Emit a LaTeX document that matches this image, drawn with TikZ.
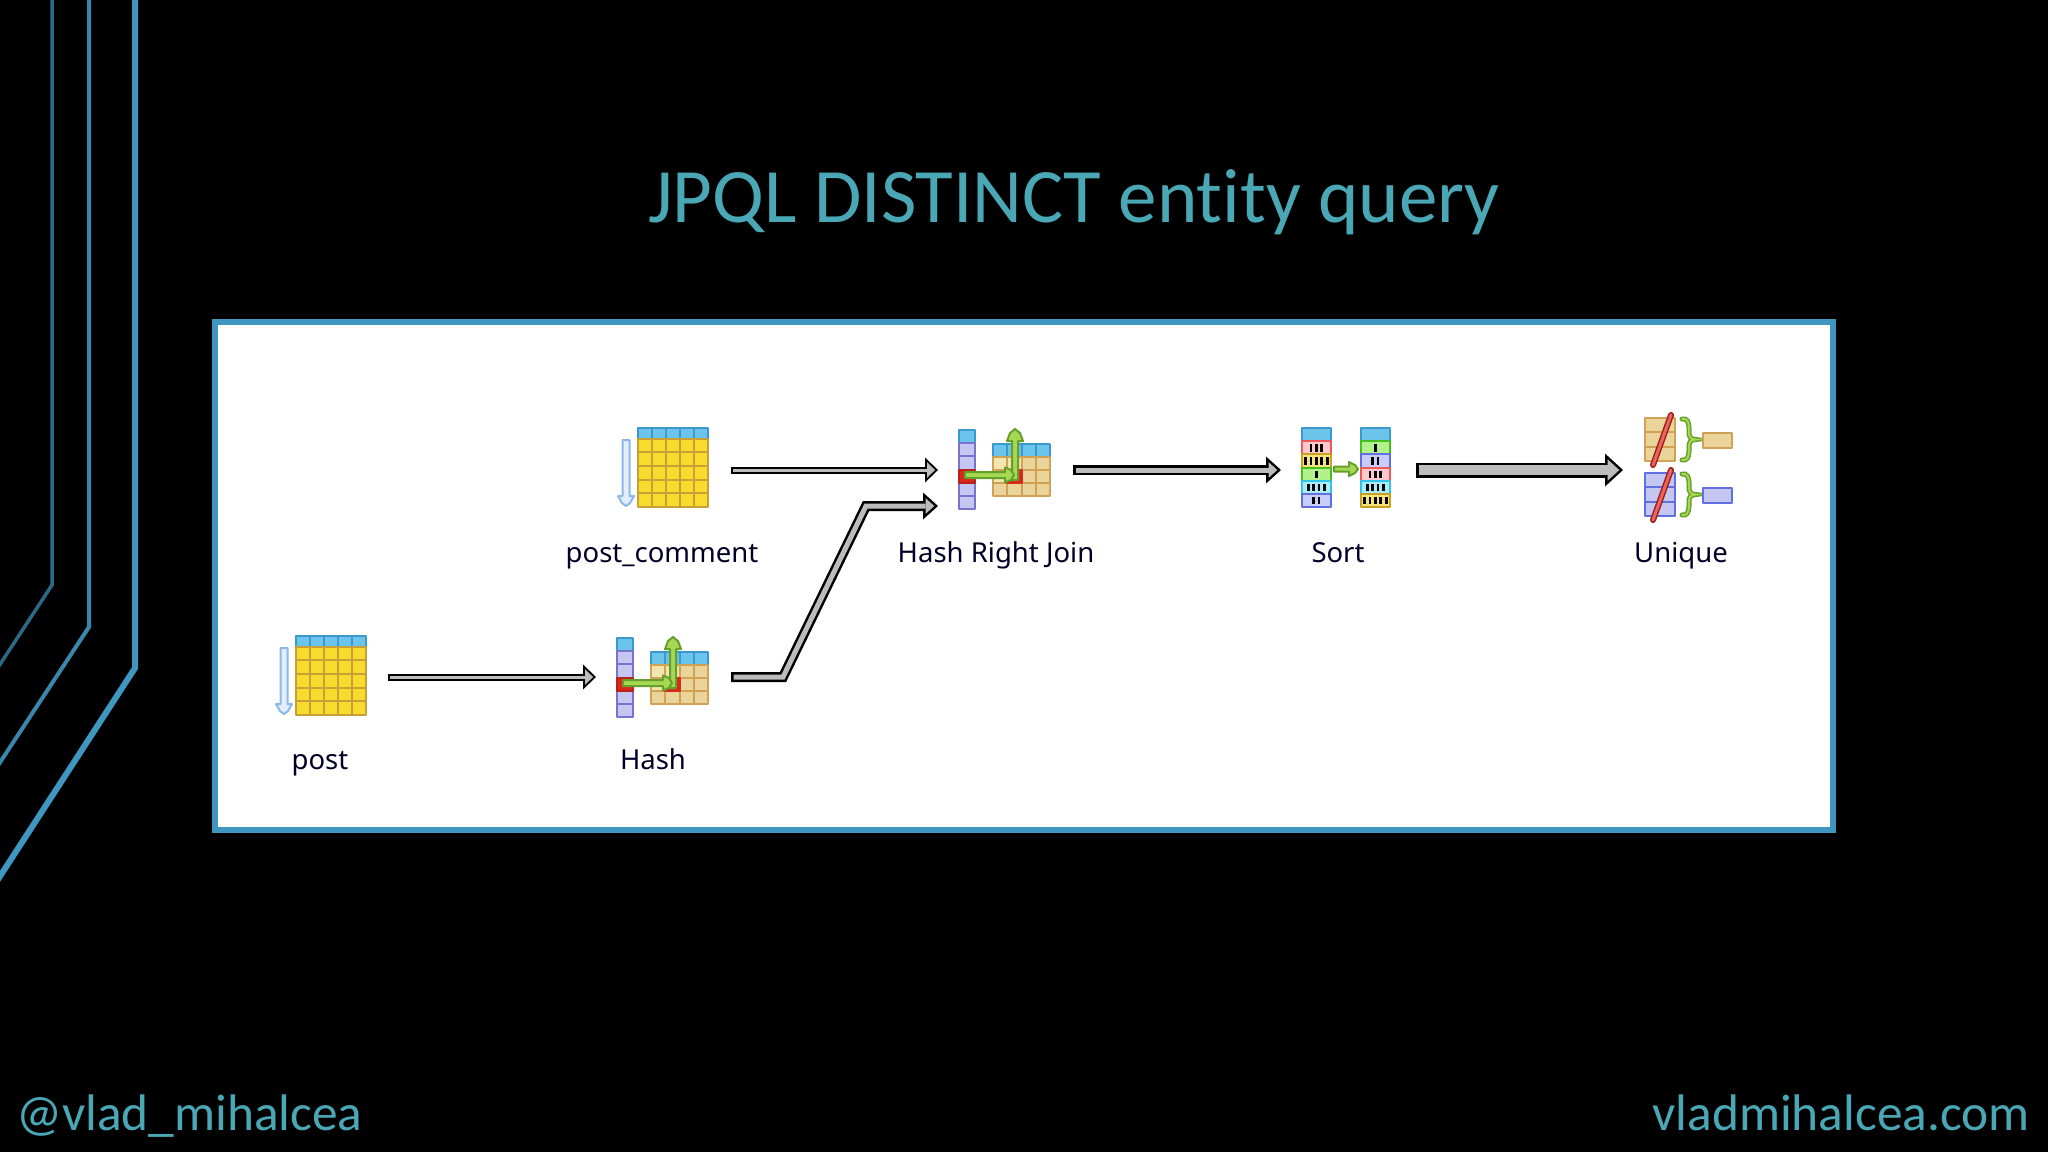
\documentclass[tikz,border=0pt]{standalone}
\usepackage{fontspec}
\usetikzlibrary{arrows.meta,calc}
\setmainfont[Ligatures=NoCommon]{Carlito}
\newfontfamily\labelfont{Noto Sans}
\definecolor{framec}{HTML}{3F96C0}
\definecolor{teal}{HTML}{4AA8B6}
\definecolor{hdrf}{HTML}{6CC4EA}
\definecolor{hdrd}{HTML}{3A9AD0}
\definecolor{yelf}{HTML}{F7DC2E}
\definecolor{yeld}{HTML}{C9A036}
\definecolor{tanf}{HTML}{EBD49A}
\definecolor{tanl}{HTML}{F1E6AE}
\definecolor{tand}{HTML}{D0A256}
\definecolor{lilf}{HTML}{C6C6F2}
\definecolor{lild}{HTML}{7A72D0}
\definecolor{redf}{HTML}{D8281E}
\definecolor{grnf}{HTML}{A6D852}
\definecolor{grnd}{HTML}{66A02C}
\definecolor{bluef}{HTML}{E2EEFB}
\definecolor{blued}{HTML}{8DB8E8}
\definecolor{arrowgray}{HTML}{BCBCBC}
\definecolor{pinkf}{HTML}{FFC8CC}
\definecolor{pinkd}{HTML}{EE5A5A}
\definecolor{ylwf}{HTML}{F8E27A}
\definecolor{ylwd}{HTML}{C9A020}
\definecolor{gnf}{HTML}{B4F08C}
\definecolor{gnd}{HTML}{44C020}
\definecolor{cyf}{HTML}{A8ECFA}
\definecolor{cyd}{HTML}{30C4EC}
\definecolor{lbf}{HTML}{C8CCFA}
\definecolor{lbd}{HTML}{6070E0}
\tikzset{
  x=1pt,y=-1pt,
  cell/.style={line width=2pt,line join=round},
  iconbox/.style={inner sep=0pt,outer sep=0pt,minimum height=84pt},
  lbl/.style={inner sep=0pt,anchor=base,text=black!85!blue,font=\labelfont\fontsize{27.5}{32}\selectfont},
  foot/.style={inner sep=0pt,text=teal,font=\fontsize{51.4}{60}\selectfont},
  deco/.style={draw=framec,line join=miter},
  blockouter/.style n args={3}{draw=black,line width=#1pt,line join=miter,-{Triangle[length=#2pt,width=#3pt,line width=0pt]}},
  blockinner/.style n args={5}{draw=arrowgray,line width=#1pt,line join=miter,shorten <=#4pt,shorten >=#5pt,-{Triangle[length=#2pt,width=#3pt,line width=0pt,color=arrowgray]}},
  thinA/.style={blockouter={7}{13}{25}},
  thinB/.style={blockinner={3}{8.1}{15.6}{2}{2.9}},
  midA/.style={blockouter={10}{15}{27}},
  midB/.style={blockinner={5}{8.8}{15.8}{2.5}{3.7}},
  bigA/.style={blockouter={15}{18}{33}},
  bigB/.style={blockinner={10}{11.8}{21.6}{2.5}{3.7}},
  grnarrow/.style={fill=grnf,draw=grnd,line width=2pt,line join=round}
}
% big table, top-left at #1,#2
\newcommand{\tableicon}[2]{%
  \begin{scope}[shift={(#1,#2)}]
    \foreach \i in {0,...,4}{
      \draw[cell,fill=hdrf,draw=hdrd] (14*\i,0) rectangle ++(14,10.8);
      \foreach \j in {0,...,4}{
        \draw[cell,fill=yelf,draw=yeld] (14*\i,10.8+13.6*\j) rectangle ++(14,13.6);
      }
    }
    \draw[fill=bluef,draw=blued,line width=2pt,line join=round]
      (-15.5,12) -- (-8.5,12) -- (-8.5,68) -- (-4,68) -- (-8,75) -- (-12,78) -- (-16,75) -- (-20,68) -- (-15.5,68) -- cycle;
  \end{scope}}
% hash icon, top-left at #1,#2
\newcommand{\hashicon}[2]{%
  \begin{scope}[shift={(#1,#2)}]
    \draw[cell,fill=hdrf,draw=hdrd] (0,0) rectangle ++(16,13.2);
    \foreach \j in {1,2,4,5}{
      \draw[cell,fill=lilf,draw=lild] (0,13.2*\j) rectangle ++(16,13.2);
    }
    \draw[cell,fill=redf,draw=redf!85!black] (0,39.6) rectangle ++(16,13.2);
    \foreach \i in {0,...,3}{
      \draw[cell,fill=hdrf,draw=hdrd] (34+14.25*\i,14) rectangle ++(14.25,13);
      \draw[cell,fill=tanf,draw=tand] (34+14.25*\i,27) rectangle ++(14.25,13);
      \draw[cell,fill=tanf,draw=tand] (34+14.25*\i,40) rectangle ++(14.25,13);
      \draw[cell,fill=tanf,draw=tand] (34+14.25*\i,53) rectangle ++(14.25,13);
    }
    \draw[cell,fill=tanl,draw=tand] (34,27) rectangle ++(14.25,13);
    \draw[cell,fill=tanl,draw=tand] (34,40) rectangle ++(14.25,13);
    \draw[cell,fill=tanl,draw=tand] (48.25,27) rectangle ++(14.25,13);
    \draw[cell,fill=redf,draw=redf] (48.25,40) rectangle ++(14.25,13);
    \draw[grnarrow] (53,50) -- (53,11) -- (48,11) -- (51,3) -- (56,-1) -- (61,3) -- (64,11) -- (59,11) -- (59,50) -- cycle;
    \draw[grnarrow] (6,42) -- (46,42) -- (46,37.5) -- (52,40) -- (55,45) -- (52,50) -- (46,52.5) -- (46,48) -- (6,48) -- cycle;
  \end{scope}}
% one row of the sort stacks: x,row,fill,draw,bars
\newcommand{\sortrow}[5]{%
  \draw[cell,fill=#3,draw=#4] (#1,428+13.2*#2) rectangle ++(28.5,13.2);
  \foreach \b in {1,...,#5}{
    \fill[black] (#1+14.25+5.4*\b-2.7*#5-4,428+13.2*#2+3) rectangle ++(2.8,7.4);
  }}
% unique brace, top at #1
\newcommand{\uniquebrace}[1]{%
  \draw[draw=grnd,line width=5pt,line cap=round]
    (1682,#1) .. controls (1687,#1-1) and (1689,#1+3) .. (1689,#1+9) -- (1689,#1+14)
    .. controls (1689,#1+18) and (1691,#1+20.5) .. (1696,#1+20.5)
    .. controls (1691,#1+20.5) and (1689,#1+23) .. (1689,#1+27) -- (1689,#1+32)
    .. controls (1689,#1+38) and (1687,#1+42) .. (1682,#1+41);
  \draw[draw=grnf,line width=2pt,line cap=round]
    (1682,#1) .. controls (1687,#1-1) and (1689,#1+3) .. (1689,#1+9) -- (1689,#1+14)
    .. controls (1689,#1+18) and (1691,#1+20.5) .. (1696,#1+20.5)
    .. controls (1691,#1+20.5) and (1689,#1+23) .. (1689,#1+27) -- (1689,#1+32)
    .. controls (1689,#1+38) and (1687,#1+42) .. (1682,#1+41);}
\begin{document}
\begin{tikzpicture}
\useasboundingbox (0,0) rectangle (2048,1152);
\fill[black] (0,0) rectangle (2048,1152);
% decorative lines
\draw[deco,line width=6pt] (135,-5) -- (135,668) -- (-5,884);
\draw[deco,line width=4pt,draw=framec!90!black] (89,-5) -- (89,627) -- (-5,770);
\draw[deco,line width=3.5pt,draw=framec!70!black] (52,-5) -- (52,585) -- (-5,672);
% title and footer
\node[inner sep=0pt,anchor=base,text=teal,font=\fontsize{77}{90}\selectfont] (title) at (1074,222) {JPQL DISTINCT entity query};
\node[foot,anchor=base west] (fl) at (16,1130) {@vlad\_mihalcea};
\node[foot,anchor=base east] (fr) at (2030,1130) {vladmihalcea.com};
% frame
\draw[draw=framec,fill=white,line width=6pt] (215,322) rectangle (1833,830);
% invisible node boxes
\node[iconbox,minimum width=118pt] (post) at (329,677) {};
\node[iconbox,minimum width=135pt] (hash) at (663.5,677) {};
\node[iconbox,minimum width=121pt] (pc) at (670.5,470) {};
\node[iconbox,minimum width=135pt] (hrj) at (1005.5,470) {};
\node[iconbox,minimum width=135pt] (sort) at (1348.5,470) {};
\node[iconbox,minimum width=117pt] (uniq) at (1681.5,470) {};
% icons
\tableicon{638}{428}
\tableicon{296}{636}
\hashicon{959}{430}
\hashicon{617}{638}
% sort icon
\draw[cell,fill=hdrf,draw=hdrd] (1302,428) rectangle ++(28.5,13.2);
\draw[cell,fill=hdrf,draw=hdrd] (1361,428) rectangle ++(28.5,13.2);
\sortrow{1302}{1}{pinkf}{pinkd}{3}
\sortrow{1302}{2}{ylwf}{ylwd}{5}
\sortrow{1302}{3}{gnf}{gnd}{1}
\sortrow{1302}{4}{cyf}{cyd}{4}
\sortrow{1302}{5}{lbf}{lbd}{2}
\sortrow{1361}{1}{gnf}{gnd}{1}
\sortrow{1361}{2}{lbf}{lbd}{2}
\sortrow{1361}{3}{pinkf}{pinkd}{3}
\sortrow{1361}{4}{cyf}{cyd}{4}
\sortrow{1361}{5}{ylwf}{ylwd}{5}
\draw[grnarrow] (1334,466.5) -- (1349,466.5) -- (1349,462) -- (1355,465) -- (1358,469) -- (1355,473) -- (1349,476) -- (1349,471.5) -- (1334,471.5) -- cycle;
% unique icon
\foreach \j in {0,1,2}{
  \draw[cell,fill=tanf,draw=tand] (1645,418+14.33*\j) rectangle ++(30,14.33);
  \draw[cell,fill=lilf,draw=lbd] (1645,473+14.33*\j) rectangle ++(30,14.33);
}
\draw[draw=redf!75!black,line width=6pt,line cap=round] (1671,415) -- (1653,465);
\draw[draw=redf!70!white,line width=3pt,line cap=round] (1671,415) -- (1653,465);
\draw[draw=redf!75!black,line width=6pt,line cap=round] (1671,470) -- (1653,520);
\draw[draw=redf!70!white,line width=3pt,line cap=round] (1671,470) -- (1653,520);
\uniquebrace{419}
\uniquebrace{474}
\draw[cell,fill=tanf,draw=tand] (1703,433) rectangle (1732,448);
\draw[cell,fill=lilf,draw=lbd] (1703,488) rectangle (1732,503);
% labels
\node[lbl] (lpc) at (662,562) {post\_comment};
\node[lbl] (lhrj) at (996,562) {Hash Right Join};
\node[lbl] (lsort) at (1338,562) {Sort};
\node[lbl] (luniq) at (1681,562) {Unique};
\node[lbl] (lpost) at (320,769) {post};
\node[lbl] (lhash) at (653,769) {Hash};
% connectors
\coordinate (el1) at (783,677);
\coordinate (el2) at (866,506);
\coordinate (hrjin) at (hrj.west |- el2);
\draw[thinA] (post.east) -- (hash.west);
\draw[thinB] (post.east) -- (hash.west);
\draw[thinA] (pc.east) -- (hrj.west);
\draw[thinB] (pc.east) -- (hrj.west);
\draw[midA] (hash.east) -- (el1) -- (el2) -- (hrjin);
\draw[midB] (hash.east) -- (el1) -- (el2) -- (hrjin);
\draw[midA] (hrj.east) -- (sort.west);
\draw[midB] (hrj.east) -- (sort.west);
\draw[bigA] (sort.east) -- (uniq.west);
\draw[bigB] (sort.east) -- (uniq.west);
\end{tikzpicture}
\end{document}
